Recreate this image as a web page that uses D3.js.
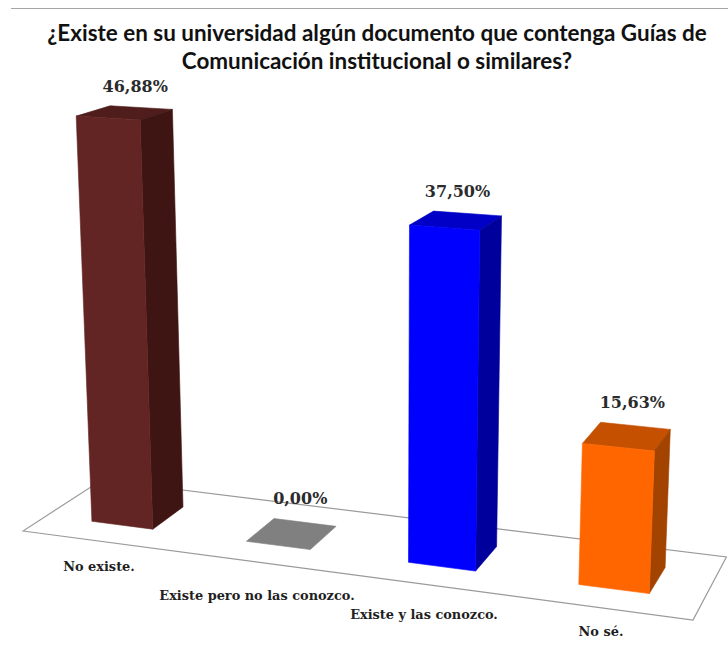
<!DOCTYPE html>
<html><head><meta charset="utf-8">
<script src="https://cdn.jsdelivr.net/npm/d3@7"></script>
<style>html,body{margin:0;padding:0;background:#fff}svg{display:block}</style>
</head><body><div id="chart"></div>
<script>
const titleLines = ["¿Existe en su universidad algún documento que contenga Guías de", "Comunicación institucional o similares?"];
const categories = ["No existe.", "Existe pero no las conozco.", "Existe y las conozco.", "No sé."];
const values = [46.88, 0, 37.5, 15.63];
const valueLabels = ["46,88%", "0,00%", "37,50%", "15,63%"];
const frontColors = ["#632523", "#808080", "#0000ff", "#ff6600"];
const topColors = ["#4f1d1b", "#808080", "#0000c6", "#c45000"];
const sideColors = ["#3f1513", "#808080", "#00009c", "#a34300"];

const W = 728, H = 648;
const svg = d3.select("#chart").append("svg").attr("width", W).attr("height", H);

// Floor plane homography (unit square -> screen)
const fA = 603.5, fB = 86.5, fC = 23, fD = 29.5, fE = -13.8, fF = 531, fG = -0.0959, fH = 0.0774;
const floor = (u, v) => {
  const w = fG * u + fH * v + 1;
  return [(fA * u + fB * v + fC) / w, (fD * u + fE * v + fF) / w];
};
const u = d3.scaleBand().domain(categories).range([0, 1]).paddingInner(0.6).paddingOuter(0.3);
const v = d3.scaleBand().domain(["serie"]).range([0, 1]).paddingInner(0.58).paddingOuter(0.29);
// Height in px, compressed by the perspective of the original picture
const yPx = d3.scaleLinear().domain([0, 15.63, 37.5, 46.88]).range([0, 130.3, 320, 405]);

// Raise a floor point by a value, with vertical lines converging below the chart
const project = (uu, vv, val) => {
  const [px, py] = floor(uu, vv);
  const h = yPx(val) * (1 + 0.0013 * (py - 521));
  return [px + (px - 385) * 0.000133 * h, py - h];
};

const poly = p => "M" + p.map(q => q.map(n => n.toFixed(1)).join(",")).join("L") + "Z";

// top rule
svg.append("line").attr("x1", 11).attr("x2", W).attr("y1", 8.5).attr("y2", 8.5)
  .attr("stroke", "#a6a6a6").attr("stroke-width", 1);

// floor
svg.append("path")
  .attr("d", poly([floor(0, 0), floor(1, 0), floor(1, 1), floor(0, 1)]))
  .attr("fill", "#fff").attr("stroke", "#9a9a9a").attr("stroke-width", 1.2);

const rows = categories.map((c, i) => ({ c, i, val: values[i], label: valueLabels[i] }));
const bars = svg.selectAll("g.bar").data(rows).join("g").attr("class", "bar");

const corners = d => {
  const u0 = u(d.c), u1 = u0 + u.bandwidth(), v0 = v("serie"), v1 = v0 + v.bandwidth();
  return { u0, u1, v0, v1 };
};
bars.append("path").attr("fill", d => topColors[d.i]).attr("stroke", d => topColors[d.i]).attr("stroke-width", 0.6).attr("d", d => {
  const k = corners(d);
  return poly([project(k.u0, k.v0, d.val), project(k.u1, k.v0, d.val), project(k.u1, k.v1, d.val), project(k.u0, k.v1, d.val)]);
});
bars.filter(d => d.val > 0).append("path").attr("fill", d => sideColors[d.i]).attr("stroke", d => sideColors[d.i]).attr("stroke-width", 0.6).attr("d", d => {
  const k = corners(d);
  return poly([project(k.u1, k.v0, 0), project(k.u1, k.v1, 0), project(k.u1, k.v1, d.val), project(k.u1, k.v0, d.val)]);
});
bars.filter(d => d.val > 0).append("path").attr("fill", d => frontColors[d.i]).attr("stroke", d => frontColors[d.i]).attr("stroke-width", 0.6).attr("d", d => {
  const k = corners(d);
  return poly([project(k.u0, k.v0, 0), project(k.u1, k.v0, 0), project(k.u1, k.v0, d.val), project(k.u0, k.v0, d.val)]);
});

// value labels
const labelDx = d3.scaleOrdinal().domain(categories).range([11, 9, 2, 6]);
bars.append("text")
  .attr("x", d => {
    const k = corners(d);
    return (project(k.u0, k.v0, d.val)[0] + project(k.u1, k.v1, d.val)[0]) / 2 + labelDx(d.c);
  })
  .attr("y", d => {
    const k = corners(d);
    return project(k.u0, k.v1, d.val)[1] - 14;
  })
  .attr("text-anchor", "middle")
  .attr("font-family", "'DejaVu Serif', serif").attr("font-weight", 700)
  .attr("font-size", 16).attr("fill", "#2b2b2b")
  .text(d => d.label);

// category labels
const catX = d3.scaleOrdinal().domain(categories).range([99, 257, 424, 601]);
const catY = d3.scaleOrdinal().domain(categories).range([571, 600, 619, 636]);
svg.selectAll("text.cat").data(rows).join("text").attr("class", "cat")
  .attr("x", d => catX(d.c)).attr("y", d => catY(d.c))
  .attr("text-anchor", "middle")
  .attr("font-family", "'DejaVu Serif', serif").attr("font-weight", 700)
  .attr("font-size", 12.9).attr("fill", "#1f1f1f")
  .text(d => d.c);

// title
svg.selectAll("text.title").data(titleLines).join("text").attr("class", "title")
  .attr("x", 377).attr("y", (d, i) => 41 + i * 28)
  .attr("text-anchor", "middle")
  .attr("font-family", "Lato, sans-serif").attr("font-weight", 700)
  .attr("font-size", 22.45).attr("fill", "#111")
  .text(d => d);
</script></body></html>
